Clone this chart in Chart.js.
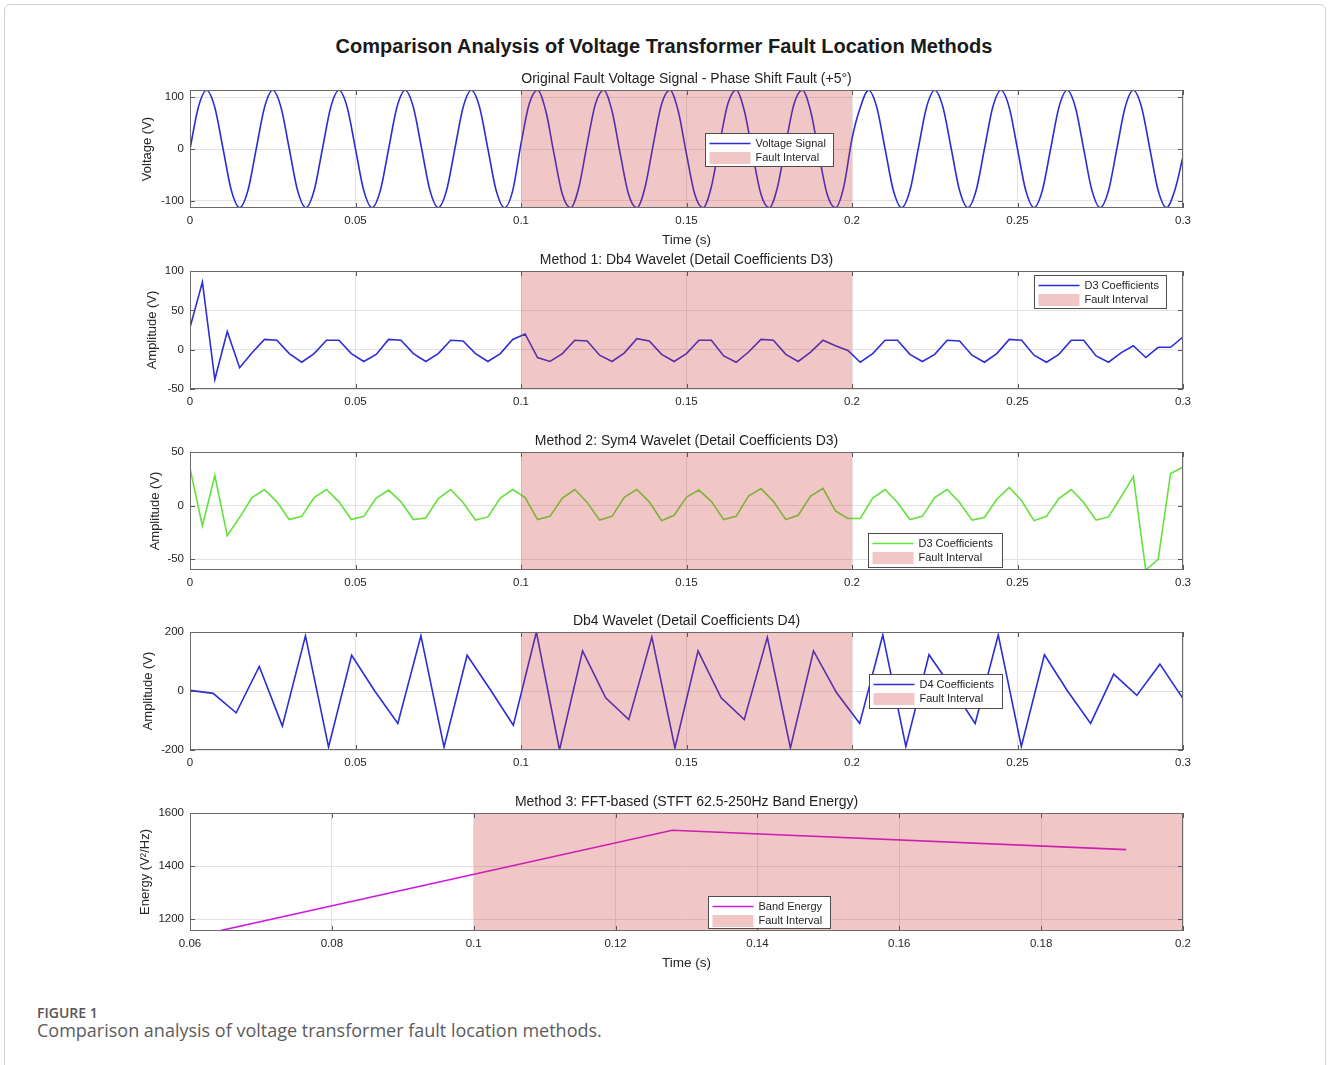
<!DOCTYPE html>
<html>
<head>
<meta charset="utf-8">
<title>Fault location methods</title>
<script src="https://cdn.jsdelivr.net/npm/chart.js@4.4.0/dist/chart.umd.min.js"></script>
<style>
  body {
    margin: 0;
    width: 1328px;
    height: 1065px;
    position: relative;
    overflow: hidden;
    background: #fff;
    font-family: "Liberation Sans", Arial, sans-serif;
  }
  .frame {
    position: absolute;
    left: 4px;
    top: 4px;
    width: 1320px;
    height: 1100px;
    border: 1px solid #d2d2d2;
    border-radius: 6px;
  }
  #mainTitle {
    position: absolute;
    left: 0;
    top: 34px;
    width: 1328px;
    text-align: center;
    font-size: 20px;
    line-height: 24px;
    font-weight: bold;
    color: #1a1a1a;
  }
  canvas {
    position: absolute;
    left: 0;
  }
  #figLabel {
    position: absolute;
    left: 37px;
    top: 1003px;
    font-family: "Open Sans", sans-serif;
    font-size: 14px;
    font-weight: 600;
    color: #555;
  }
  #figCaption {
    position: absolute;
    left: 37px;
    top: 1018px;
    font-family: "Open Sans", sans-serif;
    font-size: 18px;
    color: #5c5c5c;
  }
</style>
</head>
<body>
<div class="frame"></div>
<div id="mainTitle">Comparison Analysis of Voltage Transformer Fault Location Methods</div>

<canvas id="voltageChart" width="1328" height="196" style="top:60px"></canvas>
<canvas id="db4D3Chart" width="1328" height="196" style="top:241px"></canvas>
<canvas id="sym4D3Chart" width="1328" height="196" style="top:422px"></canvas>
<canvas id="db4D4Chart" width="1328" height="196" style="top:602px"></canvas>
<canvas id="energyChart" width="1328" height="196" style="top:783px"></canvas>

<div id="figLabel">FIGURE 1</div>
<div id="figCaption">Comparison analysis of voltage transformer fault location methods.</div>

<script>
// ---- data ----
const faultStart = 0.1;
const faultEnd = 0.2;

// voltage samples every 2.5 ms (0 .. 0.3 s)
const voltage = [
  0, 80, 113, 80, 0, -80, -113, -80,
  0, 80, 113, 80, 0, -80, -113, -80,
  0, 80, 113, 80, 0, -80, -113, -80,
  0, 80, 113, 80, 0, -80, -113, -80,
  0, 80, 113, 80, 0, -80, -113, -80,
  10, 87, 113, 73, -10, -87, -113, -73,
  10, 87, 113, 73, -10, -87, -113, -73,
  10, 87, 113, 73, -10, -87, -113, -73,
  10, 87, 113, 73, -10, -87, -113, -73,
  10, 87, 113, 73, -10, -87, -113, -73,
  20, 80, 113, 80, 0, -80, -113, -80,
  0, 80, 113, 80, 0, -80, -113, -80,
  0, 80, 113, 80, 0, -80, -113, -80,
  0, 80, 113, 80, 0, -80, -113, -80,
  0, 80, 113, 80, 0, -80, -113, -80,
  -15,
];

// level-3 detail coefficients (81 each)
const d3Db4 = [
  28, 86, -38, 23, -23, -4, 13, 12, -5, -16,
  -5, 12, 12, -5, -15, -6, 13, 12, -5, -15,
  -5, 12, 11, -5, -15, -5, 13, 20, -10, -15,
  -5, 12, 11, -7, -15, -4, 14, 11, -6, -15,
  -5, 12, 12, -8, -16, -3, 13, 12, -6, -15,
  -3, 12, 5, -1, -16, -5, 12, 12, -6, -15,
  -6, 12, 11, -7, -16, -5, 13, 12, -7, -16,
  -6, 12, 12, -8, -16, -4, 5, -10, 3, 3,
  16,
];
const d3Sym4 = [
  35, -19, 28, -28, -11, 7.5, 15, 3.5, -13, -10,
  7.5, 15, 3.5, -13, -10, 7, 14.5, 3.5, -13, -11.5,
  6.5, 15, 3, -13.5, -10.5, 7, 15, 7.5, -13, -10,
  7, 15, 3, -13.5, -10, 8, 15, 3.5, -14, -9,
  8, 14.5, 4, -13, -10, 9, 16, 4, -13, -9,
  9, 16, -5, -12, -12, 7, 15, 3, -13, -10,
  7.5, 15, 3, -13.5, -11, 6, 17, 4.5, -14, -10,
  6.5, 15, 3, -13.5, -10.5, 8, 27, -60, -50, 30,
  36,
];

// level-4 detail coefficients (44)
const d4Db4 = [
  2, -8, -74, 83, -119, 187, -190, 121, 0, -110,
  187, -190, 121, 5, -116, 200, -200, 136, -23, -97,
  183, -193, 136, -23, -97, 182, -193, 136, -6, -110,
  190, -188, 123, 10, -110, 190, -188, 123, 0, -110,
  57, -15, 91, -26,
];

// STFT band energy frames
const stftTimes = [0.064, 0.128, 0.192];
const bandEnergy = [1155, 1535, 1462];

const xTicksTime = [0, 0.05, 0.1, 0.15, 0.2, 0.25, 0.3];
const xTicksEnergy = [0.06, 0.08, 0.1, 0.12, 0.14, 0.16, 0.18, 0.2];
const yTicksVoltage = [-100, 0, 100];
const yTicksD3Db4 = [-50, 0, 50, 100];
const yTicksD3Sym4 = [-50, 0, 50];
const yTicksD4 = [-200, 0, 200];
const yTicksEnergy = [1200, 1400, 1600];

// ---- helpers ----
function linspace(a, b, n) {
  const out = [];
  for (let i = 0; i < n; i++) out.push(a + (b - a) * i / (n - 1));
  return out;
}

const FONT = "'Liberation Sans', Arial, sans-serif";
const faultColor = "rgba(204, 51, 51, 0.28)";
const gridColor = "#e2e2e2";
const textColor = "#262626";

Chart.defaults.font.family = FONT;

// MATLAB-like box, inward ticks and an in-axes legend
const axesBox = {
  id: "axesBox",
  afterDraw(chart, args, opts) {
    const { ctx, chartArea: a, scales } = chart;
    ctx.save();
    ctx.strokeStyle = "#595959";
    ctx.lineWidth = 1;
    ctx.beginPath();
    scales.x.ticks.forEach((t) => {
      const px = Math.round(scales.x.getPixelForValue(t.value)) + 0.5;
      ctx.moveTo(px, a.bottom);
      ctx.lineTo(px, a.bottom - 5);
      ctx.moveTo(px, a.top);
      ctx.lineTo(px, a.top + 5);
    });
    scales.y.ticks.forEach((t) => {
      const py = Math.round(scales.y.getPixelForValue(t.value)) + 0.5;
      ctx.moveTo(a.left, py);
      ctx.lineTo(a.left + 5, py);
      ctx.moveTo(a.right, py);
      ctx.lineTo(a.right - 5, py);
    });
    ctx.stroke();
    ctx.strokeStyle = "#6a6a6a";
    ctx.strokeRect(Math.round(a.left) + 0.5, Math.round(a.top) + 0.5,
      Math.round(a.width) - 1, Math.round(a.height) - 1);

    const lg = opts.legend;
    if (lg) {
      const bx = Math.round(a.left + lg.left) + 0.5;
      const by = Math.round(a.top + lg.top) + 0.5;
      ctx.fillStyle = "#fff";
      ctx.fillRect(bx, by, lg.width, lg.height);
      ctx.strokeStyle = "#4d4d4d";
      ctx.lineWidth = 1;
      ctx.strokeRect(bx, by, lg.width, lg.height);
      const row1 = by + 10;
      const row2 = by + 24.5;
      ctx.strokeStyle = lg.color;
      ctx.lineWidth = 1.6;
      ctx.beginPath();
      ctx.moveTo(bx + 4, row1);
      ctx.lineTo(bx + 45, row1);
      ctx.stroke();
      ctx.fillStyle = faultColor;
      ctx.fillRect(bx + 4, row2 - 6, 41, 12);
      ctx.fillStyle = textColor;
      ctx.font = "11px " + FONT;
      ctx.textBaseline = "middle";
      ctx.fillText(lg.label, bx + 50, row1);
      ctx.fillText("Fault Interval", bx + 50, row2);
    }
    ctx.restore();
  },
};

function buildChart(canvasId, s) {
  return new Chart(document.getElementById(canvasId), {
    type: "line",
    plugins: [axesBox],
    data: {
      datasets: [
        {
          // fault band sits over the signal
          data: [{ x: faultStart, y: s.yMax }, { x: faultEnd, y: s.yMax }],
          fill: "start",
          backgroundColor: faultColor,
          borderWidth: 0,
          pointRadius: 0,
        },
        {
          data: s.x.map((x, i) => ({ x: x, y: s.y[i] })),
          borderColor: s.color,
          borderWidth: 1.6,
          pointRadius: 0,
          fill: false,
          tension: 0,
          cubicInterpolationMode: s.smooth ? "monotone" : "default",
        },
      ],
    },
    options: {
      responsive: false,
      animation: false,
      events: [],
      layout: { padding: { left: 130, right: 145, top: 10.6, bottom: 0 } },
      plugins: {
        legend: { display: false },
        tooltip: { enabled: false },
        title: {
          display: true,
          text: s.title,
          fullSize: false,
          color: "#1f1f1f",
          font: { size: 14, weight: "normal" },
          padding: { top: 0, bottom: 2.6 },
        },
        axesBox: { legend: s.legend },
      },
      scales: {
        x: {
          type: "linear",
          min: s.xMin,
          max: s.xMax,
          afterBuildTicks: (scale) => {
            scale.ticks = s.xTicks.map((v) => ({ value: v }));
          },
          afterFit: (scale) => {
            scale.height = 48;
          },
          ticks: {
            color: textColor,
            font: { size: 11.5 },
            padding: 6,
            maxRotation: 0,
            autoSkip: false,
            callback: (v) => String(v),
          },
          grid: { color: gridColor, drawTicks: false },
          border: { display: false },
          title: {
            display: !!s.xTitle,
            text: s.xTitle,
            color: textColor,
            font: { size: 13.5 },
            padding: { top: 0, bottom: 8 },
          },
        },
        y: {
          type: "linear",
          min: s.yMin,
          max: s.yMax,
          afterBuildTicks: (scale) => {
            scale.ticks = s.yTicks.map((v) => ({ value: v }));
          },
          afterFit: (scale) => {
            scale.width = 60;
          },
          ticks: {
            color: textColor,
            font: { size: 11.5 },
            padding: 6,
            callback: (v) => String(v),
          },
          grid: { color: gridColor, drawTicks: false },
          border: { display: false },
          title: {
            display: true,
            text: s.yTitle,
            color: textColor,
            font: { size: 13 },
            padding: { top: s.yTitlePad, bottom: 0 },
          },
        },
      },
    },
  });
}

buildChart("voltageChart", {
  title: "Original Fault Voltage Signal - Phase Shift Fault (+5°)",
  x: linspace(0, 0.3, voltage.length),
  y: voltage,
  smooth: true,
  color: "rgb(45, 45, 215)",
  xMin: 0, xMax: 0.3, xTicks: xTicksTime, xTitle: "Time (s)",
  yMin: -113.5, yMax: 113.5, yTicks: yTicksVoltage, yTitle: "Voltage (V)", yTitlePad: 10,
  legend: { left: 515, top: 43, width: 128, height: 33, label: "Voltage Signal", color: "rgb(45, 45, 215)" },
});

buildChart("db4D3Chart", {
  title: "Method 1: Db4 Wavelet (Detail Coefficients D3)",
  x: linspace(0, 0.3, d3Db4.length),
  y: d3Db4,
  color: "rgb(45, 45, 215)",
  xMin: 0, xMax: 0.3, xTicks: xTicksTime,
  yMin: -50, yMax: 100, yTicks: yTicksD3Db4, yTitle: "Amplitude (V)", yTitlePad: 15,
  legend: { left: 844, top: 4, width: 132, height: 33, label: "D3 Coefficients", color: "rgb(45, 45, 215)" },
});

buildChart("sym4D3Chart", {
  title: "Method 2: Sym4 Wavelet (Detail Coefficients D3)",
  x: linspace(0, 0.3, d3Sym4.length),
  y: d3Sym4,
  color: "rgb(100, 225, 60)",
  xMin: 0, xMax: 0.3, xTicks: xTicksTime,
  yMin: -60, yMax: 50, yTicks: yTicksD3Sym4, yTitle: "Amplitude (V)", yTitlePad: 18,
  legend: { left: 678, top: 81, width: 134, height: 34, label: "D3 Coefficients", color: "rgb(100, 225, 60)" },
});

buildChart("db4D4Chart", {
  title: "Db4 Wavelet (Detail Coefficients D4)",
  x: linspace(0, 0.3, d4Db4.length),
  y: d4Db4,
  color: "rgb(45, 45, 215)",
  xMin: 0, xMax: 0.3, xTicks: xTicksTime,
  yMin: -200, yMax: 200, yTicks: yTicksD4, yTitle: "Amplitude (V)", yTitlePad: 11,
  legend: { left: 679, top: 42, width: 133, height: 34, label: "D4 Coefficients", color: "rgb(45, 45, 215)" },
});

buildChart("energyChart", {
  title: "Method 3: FFT-based (STFT 62.5-250Hz Band Energy)",
  x: stftTimes,
  y: bandEnergy,
  color: "rgb(205, 25, 225)",
  xMin: 0.06, xMax: 0.2, xTicks: xTicksEnergy, xTitle: "Time (s)",
  yMin: 1155, yMax: 1600, yTicks: yTicksEnergy, yTitle: "Energy (V²/Hz)", yTitlePad: 8,
  legend: { left: 518, top: 83, width: 122, height: 32, label: "Band Energy", color: "rgb(205, 25, 225)" },
});
</script>
</body>
</html>
